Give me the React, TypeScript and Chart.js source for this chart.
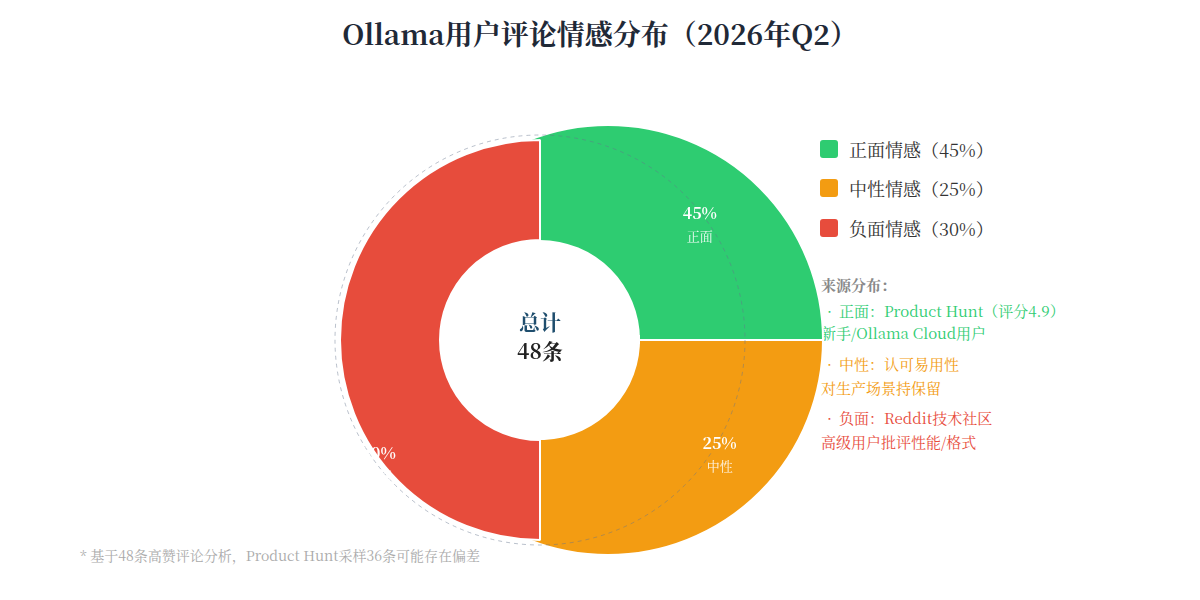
import React, { useEffect, useRef } from 'react';
import { Chart, registerables } from 'chart.js';

Chart.register(...registerables);

// ---------------- data ----------------
const chartTitle = 'Ollama用户评论情感分布（2026年Q2）';
const categories = ['正面', '中性', '负面'];
const legendNames = ['正面情感', '中性情感', '负面情感'];
const sentimentPercent = [45, 25, 30];
// angular share of each slice as it is drawn in the picture
const drawnShare = [25, 25, 50];
const totalReviews = 48;
const sourceTitle = '来源分布：';
const sourceHeads = ['正面：Product Hunt（评分4.9）', '中性：认可易用性', '负面：Reddit技术社区'];
const sourceDetails = ['新手/Ollama Cloud用户', '对生产场景持保留', '高级用户批评性能/格式'];
const footnote = '* 基于48条高赞评论分析，Product Hunt采样36条可能存在偏差';

// ---------------- style ----------------
const COLORS = ['#2ecc71', '#f39c12', '#e74c3c'];
const FONT = '"Noto Serif CJK SC", "Noto Serif SC", "Source Han Serif SC", "Noto Serif", "DejaVu Serif", serif';

// geometry (px)
const PAD = { left: 16, right: 0, top: 80, bottom: 0 }; // chart centre at (608, 340)
const SHIFT = 68; // red ring centre sits SHIFT px left of the chart centre
const RIGHT_OUTER = 215;
const RIGHT_INNER = 20;
const LEFT_OUTER = 200;
const LEFT_INNER = 100;
const HOLE_R = 100;
const GUIDE_R = 205;

// ring weights (dyadic so that the hole resolves exactly to a pie)
const W_RIGHT = 240 / 256;
const W_LEFT = 14 / 256;
const W_HOLE = 2 / 256;

// label polar positions around the ring centre: [deg clockwise from top, radius]
const LABEL_POLAR: [number, number][] = [
  [51.6, 204],
  [119.8, 207],
  [234.9, 197],
];

function ringOptions(outer: number, inner: number, before: number, weight: number) {
  const total = W_RIGHT + W_LEFT + W_HOLE;
  const k = ((outer - inner) * total) / weight;
  const R = outer + (k * before) / total;
  const c = 1 - k / R;
  return { radius: R, cutout: `${Math.max(c, 0) * 100}%` };
}

const TAU = Math.PI * 2;

const overlayPlugin = {
  id: 'overlayPlugin',
  afterDatasetsDraw(chart: any) {
    const ctx: CanvasRenderingContext2D = chart.ctx;
    const el = chart.getDatasetMeta(1).data[0];
    if (!el) return;
    const mid = (el.startAngle + el.endAngle) / 2;
    const t = (el.options.offset || 0) / 4;
    const cx = el.x + Math.cos(mid) * t;
    const cy = el.y + Math.sin(mid) * t;

    // dashed guide ring
    ctx.save();
    ctx.setLineDash([4, 4]);
    ctx.lineWidth = 1;
    ctx.strokeStyle = 'rgba(100,116,139,0.45)';
    ctx.beginPath();
    ctx.arc(cx, cy, GUIDE_R, 0, TAU);
    ctx.stroke();
    ctx.restore();

    // centre text
    ctx.save();
    ctx.textAlign = 'center';
    ctx.textBaseline = 'middle';
    ctx.font = `bold 21px ${FONT}`;
    ctx.fillStyle = '#1f4e6e';
    ctx.fillText('总计', cx, cy - 18);
    ctx.fillStyle = '#222222';
    ctx.fillText(`${totalReviews}条`, cx, cy + 11);
    ctx.restore();

    // slice labels
    ctx.save();
    ctx.textAlign = 'center';
    ctx.textBaseline = 'middle';
    LABEL_POLAR.forEach(([deg, r], i) => {
      const a = (deg * Math.PI) / 180;
      const x = cx + r * Math.sin(a);
      const y = cy - r * Math.cos(a);
      ctx.fillStyle = '#ffffff';
      ctx.font = `bold 16px ${FONT}`;
      ctx.fillText(`${sentimentPercent[i]}%`, x, y);
      ctx.fillStyle = 'rgba(255,255,255,0.9)';
      ctx.font = `13px ${FONT}`;
      ctx.fillText(categories[i], x, y + 23);
    });
    ctx.restore();
  },
};

export default function App() {
  const ref = useRef<HTMLCanvasElement>(null);

  useEffect(() => {
    const canvas = ref.current;
    if (!canvas) return;

    // left half: pushed left by SHIFT with the arc offset; widen the span so the
    // offset's angular trim still leaves straight vertical edges
    const leftPad = SHIFT / Math.PI / (2 * LEFT_OUTER);
    const leftSpan = (drawnShare[2] / 100) * TAU + 2 * leftPad;
    const leftStart = Math.PI - leftSpan / 2;
    const holeSpan = TAU + 0.3;
    const holeStart = Math.PI - holeSpan / 2;
    const toDeg = (r: number) => (r * 180) / Math.PI;

    const chart = new Chart(canvas, {
      type: 'doughnut',
      data: {
        labels: categories,
        datasets: [
          {
            label: 'right',
            data: [drawnShare[0], drawnShare[1]],
            backgroundColor: [COLORS[0], COLORS[1]],
            borderColor: '#ffffff',
            borderWidth: 2,
            rotation: -90,
            circumference: 360,
            weight: W_RIGHT,
            order: 2,
            hoverOffset: 0,
            ...ringOptions(RIGHT_OUTER, RIGHT_INNER, 0, W_RIGHT),
          } as any,
          {
            label: 'left',
            data: [drawnShare[2]],
            backgroundColor: [COLORS[2]],
            borderColor: '#ffffff',
            borderWidth: 2,
            rotation: toDeg(leftStart + Math.PI / 2),
            circumference: toDeg(leftSpan),
            weight: W_LEFT,
            order: 1,
            offset: SHIFT * 4,
            hoverOffset: 0,
            ...ringOptions(LEFT_OUTER - SHIFT, LEFT_INNER - SHIFT, W_RIGHT, W_LEFT),
          } as any,
          {
            label: 'hole',
            data: [1],
            backgroundColor: ['#ffffff'],
            borderWidth: 0,
            rotation: toDeg(holeStart + Math.PI / 2),
            circumference: toDeg(holeSpan),
            weight: W_HOLE,
            order: 0,
            offset: SHIFT * 4,
            hoverOffset: 0,
            ...ringOptions(HOLE_R - SHIFT, 0, W_RIGHT + W_LEFT, W_HOLE),
          } as any,
        ],
      },
      options: {
        responsive: false,
        animation: false,
        events: [],
        devicePixelRatio: 1,
        layout: { padding: PAD },
        plugins: {
          legend: { display: false },
          tooltip: { enabled: false },
          title: { display: false },
        },
      } as any,
      plugins: [overlayPlugin as any],
    });

    return () => chart.destroy();
  }, []);

  const abs = (left: number, top: number): React.CSSProperties => ({
    position: 'absolute',
    left,
    top,
    whiteSpace: 'nowrap',
  });

  const legendY = [149, 188, 228];
  const headY = [311, 364, 418];
  const detailY = [333, 388, 442];

  return (
    <div
      style={{
        position: 'absolute',
        left: 0,
        top: 0,
        width: 1200,
        height: 600,
        overflow: 'hidden',
        background: '#ffffff',
        fontFamily: FONT,
      }}
    >
      <div
        style={{
          position: 'absolute',
          left: 0,
          top: 13,
          width: 1200,
          textAlign: 'center',
          fontSize: 28,
          lineHeight: '40px',
          fontWeight: 'bold',
          color: '#1f2937',
        }}
      >
        {chartTitle}
      </div>

      {legendNames.map((name, i) => (
        <React.Fragment key={name}>
          <div
            style={{
              ...abs(820, legendY[i] - 9),
              width: 18,
              height: 18,
              borderRadius: 3,
              background: COLORS[i],
            }}
          />
          <div style={{ ...abs(849, legendY[i] - 12), fontSize: 18, lineHeight: '24px', color: '#333333' }}>
            {`${name}（${sentimentPercent[i]}%）`}
          </div>
        </React.Fragment>
      ))}

      <div style={{ ...abs(821, 285 - 11), fontSize: 15, lineHeight: '22px', fontWeight: 'bold', color: '#888888' }}>
        {sourceTitle}
      </div>
      {sourceHeads.map((h, i) => (
        <React.Fragment key={h}>
          <div style={{ ...abs(820, headY[i] - 11), fontSize: 15, lineHeight: '22px', color: COLORS[i] }}>
            <span style={{ display: 'inline-block', width: 19, textAlign: 'center' }}>·</span>
            {h}
          </div>
          <div style={{ ...abs(821, detailY[i] - 11), fontSize: 15, lineHeight: '22px', color: COLORS[i] }}>
            {sourceDetails[i]}
          </div>
        </React.Fragment>
      ))}

      <div style={{ ...abs(80, 555 - 10), fontSize: 14, lineHeight: '20px', color: '#aaaaaa' }}>{footnote}</div>

      <canvas
        ref={ref}
        width={1200}
        height={600}
        style={{ position: 'absolute', left: 0, top: 0, width: 1200, height: 600, pointerEvents: 'none' }}
      />
    </div>
  );
}
